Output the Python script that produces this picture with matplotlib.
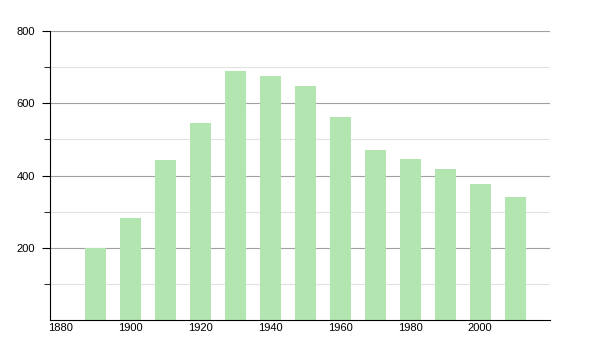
import matplotlib
matplotlib.use("Agg")
import matplotlib.pyplot as plt
from matplotlib.ticker import FixedLocator

years = [1890, 1900, 1910, 1920, 1930, 1940, 1950, 1960, 1970, 1980, 1990, 2000, 2010]
values = [200, 282, 443, 545, 690, 676, 648, 562, 471, 446, 418, 377, 341]
xticks = [1880, 1900, 1920, 1940, 1960, 1980, 2000]
yticks = [200, 400, 600, 800]
yminor = [100, 300, 500, 700]

plt.rcParams['font.family'] = ['Liberation Sans', 'DejaVu Sans']
fig = plt.figure(figsize=(6, 3.5), dpi=100)
ax = fig.add_axes([50/600, 30/350, 500/600, 289/350])

ax.bar(years, values, width=6, color='#b2e5b0', zorder=2)
ax.set_xlim(1877, 2020)
ax.set_ylim(0, 800)

ax.yaxis.set_major_locator(FixedLocator(yticks))
ax.yaxis.set_minor_locator(FixedLocator(yminor))
ax.xaxis.set_major_locator(FixedLocator(xticks))
ax.grid(axis='y', which='major', color='#a0a0a0', linewidth=0.8, zorder=0)
ax.grid(axis='y', which='minor', color='#e2e2e2', linewidth=0.8, zorder=0)

for s in ['top', 'right']:
    ax.spines[s].set_visible(False)
ax.spines['left'].set_color('black')
ax.spines['bottom'].set_color('black')
ax.tick_params(axis='y', which='major', length=6, labelsize=8, pad=5)
ax.tick_params(axis='y', which='minor', length=4)
ax.tick_params(axis='x', length=0, labelsize=8, pad=2)

fig.savefig('out.png', dpi=100)
